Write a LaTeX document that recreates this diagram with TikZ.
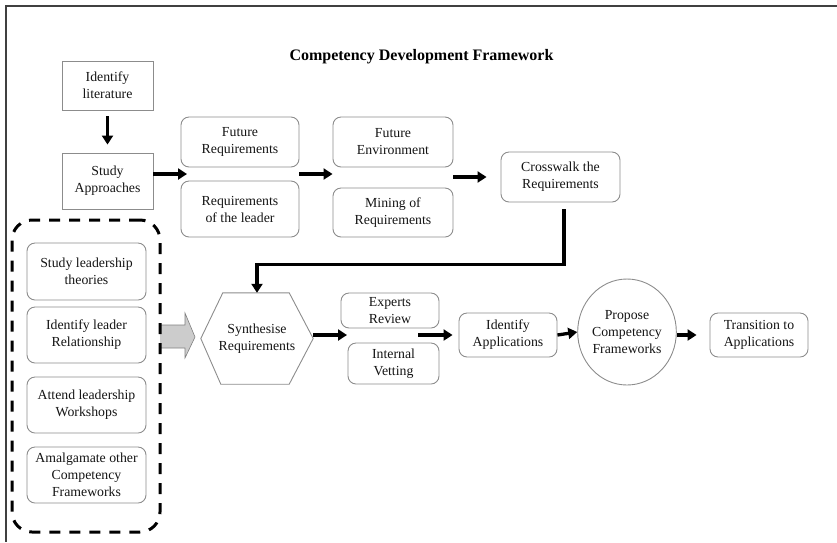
\documentclass[tikz,border=0pt]{standalone}
\usepackage{fontspec}
\setmainfont{Liberation Serif}
\usetikzlibrary{arrows.meta,calc,shapes.geometric}
\begin{document}
\begin{tikzpicture}[x=1pt,y=-1pt,
  txt/.style={font=\fontsize{13.8}{17}\selectfont, text=black!92, align=center},
  sqbox/.style={txt, draw=black!45, line width=0.9pt, inner sep=0pt},
  rbox/.style={sqbox, rounded corners=8pt},
  conn/.style={line width=3.3pt, -{Triangle[length=9pt,width=11pt]}},
  grpbox/.style={draw=black, line width=3pt, dash pattern=on 11pt off 9pt, rounded corners=20pt, inner sep=0pt},
]
\useasboundingbox (0,0) rectangle (837,542);
\draw[black!75, line width=2pt] (837,5.5) -- (6,5.5) -- (6,542);

\node[font=\fontsize{16}{19}\selectfont\bfseries, text=black] (title) at (421.5,57) {Competency Development Framework};

% top row
\node[sqbox, minimum width=91pt, minimum height=49pt] (il) at (107.5,85.5) {Identify\\literature};
\node[sqbox, minimum width=91pt, minimum height=56pt] (sa) at (107.5,181) {Study\\Approaches};
\node[rbox, minimum width=118pt, minimum height=50pt] (fr) at (240,142) {Future\\Requirements};
\node[rbox, minimum width=118pt, minimum height=56pt] (rl) at (240,209) {Requirements\\of the leader};
\node[rbox, minimum width=120pt, minimum height=50pt] (fe) at (393,142) {Future\\Environment};
\node[rbox, minimum width=120pt, minimum height=49pt] (mr) at (393,212.5) {Mining of\\Requirements};
\node[rbox, minimum width=119pt, minimum height=50pt] (cw) at (560.5,177) {Crosswalk the\\Requirements};

% left group
\filldraw[fill=black!20, draw=black!50, line width=0.6pt]
  (160,325) -- (185,325) -- (185,313) -- (195,337) -- (185,358) -- (185,348) -- (160,348);
\node[grpbox, minimum width=148pt, minimum height=312pt] (grp) at (86,376) {};
\node[rbox, minimum width=119pt, minimum height=57pt] (g1) at (86.5,271.5) {Study leadership\\theories};
\node[rbox, minimum width=119pt, minimum height=56pt] (g2) at (86.5,335) {Identify leader\\Relationship};
\node[rbox, minimum width=119pt, minimum height=56pt] (g3) at (86.5,405) {Attend leadership\\Workshops};
\node[rbox, minimum width=119pt, minimum height=56pt] (g4) at (86.5,475) {Amalgamate other\\Competency\\Frameworks};

% bottom row
\node[txt, minimum width=112pt, minimum height=91pt, inner sep=0pt] (syn) at (257,338.5) {Synthesise\\Requirements};
\draw[black!45, line width=0.9pt] (syn.west) -- ([xshift=22pt]syn.north west) -- ([xshift=-24pt]syn.north east)
  -- (syn.east) -- ([xshift=-24pt]syn.south east) -- ([xshift=20pt]syn.south west) -- cycle;
\node[rbox, minimum width=98pt, minimum height=35pt] (er) at (390,310.5) {Experts\\Review};
\node[rbox, minimum width=91pt, minimum height=41pt] (iv) at (393.5,363.5) {Internal\\Vetting};
\node[rbox, minimum width=98pt, minimum height=44pt] (ia) at (508,335) {Identify\\Applications};
\node[txt, ellipse, draw=black!45, line width=0.9pt, inner sep=0pt, minimum width=97pt, minimum height=106pt] (pc) at (627,332) {Propose\\Competency\\Frameworks};
\node[rbox, minimum width=98pt, minimum height=44pt] (ta) at (759,335) {Transition to\\Applications};

% connectors
\coordinate (a1) at (187,174);
\coordinate (a2) at (299,174);
\coordinate (m1) at (347,335);
\coordinate (m2) at (418,335);
\draw[conn] ([yshift=-6pt]il.south) -- ([yshift=8pt]sa.north);
\draw[conn] (sa.east |- a1) -- (a1);
\draw[conn] (a2) -- (fe.west |- a2);
\draw[conn] (fe.east |- cw) -- ([xshift=-14pt]cw.west);
\draw[conn] ([xshift=3.5pt,yshift=-7pt]cw.south) |- ([yshift=28pt]syn.north) -- (syn.north);
\draw[conn] (syn.east |- m1) -- (m1);
\draw[conn] (m2) -- ([xshift=-6pt]ia.west);
\draw[conn] (ia.east) -- (pc.west);
\draw[conn] (pc.east |- ta) -- ([xshift=-13pt]ta.west);
\end{tikzpicture}
\end{document}
